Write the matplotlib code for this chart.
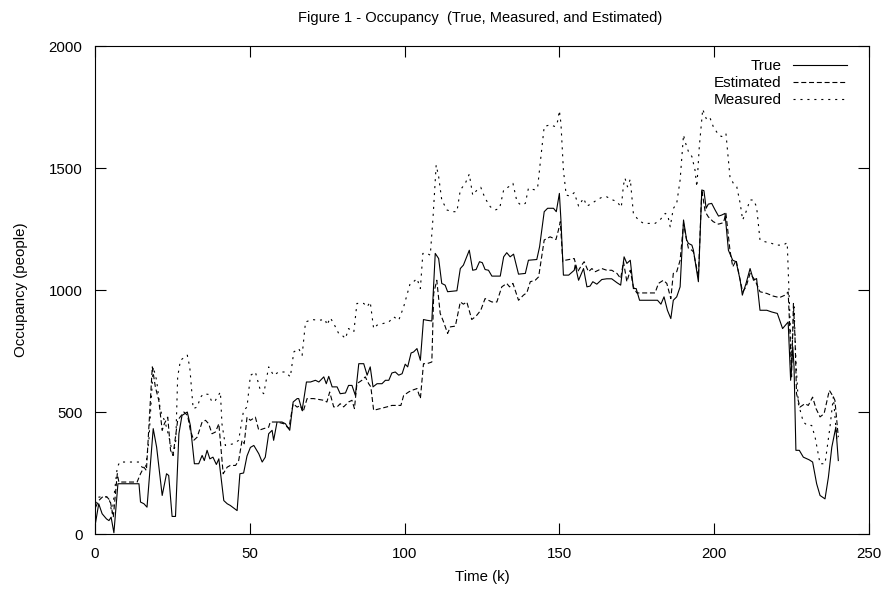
import matplotlib
matplotlib.use("Agg")
import matplotlib.pyplot as plt

plt.rcParams['font.family'] = ['Liberation Sans', 'DejaVu Sans']
plt.rcParams['lines.scale_dashes'] = False

# values (time step k, occupancy)
true_k = [0.2, 1.2, 2.3, 3.7, 4.5, 5.2, 6.1, 7.4, 14.2, 14.7, 15.8, 16.8, 18.8, 19.9, 21.7, 23.1, 23.8,
          24.9, 26.0, 27.1, 28.1, 29.8, 30.8, 32.1, 33.5, 34.6, 35.3, 36.2, 37.1, 38.1, 39.2, 40.0, 41.6,
          42.7, 43.7, 45.9, 46.8, 48.0, 49.1, 50.2, 51.3, 52.9, 54.0, 55.0, 56.1, 57.2, 57.7, 58.8, 60.4,
          61.5, 62.9, 64.0, 65.3, 65.8, 66.9, 68.3, 69.6, 71.2, 72.3, 73.9, 74.7, 75.5, 76.6, 78.2, 79.2,
          80.9, 81.9, 83.0, 84.1, 85.2, 86.8, 87.9, 88.9, 89.8, 91.1, 92.7, 93.8, 94.9, 95.9, 97.0, 98.1,
          99.2, 100.2, 101.0, 102.1, 102.9, 104.0, 105.1, 106.1, 107.2, 108.8, 109.9, 111.0, 112.0, 113.1,
          113.9, 115.3, 116.9, 118.0, 119.0, 120.9, 122.0, 123.1, 124.2, 125.1, 126.0, 127.1, 128.2, 130.9,
          132.0, 133.0, 134.1, 135.2, 136.8, 139.0, 140.0, 142.7, 143.6, 145.1, 146.2, 148.1, 149.0, 150.0,
          150.5, 151.3, 153.0, 154.8, 155.1, 156.2, 157.8, 158.9, 159.9, 160.8, 162.1, 163.7, 165.3,
          166.9, 168.6, 169.8, 170.9, 171.8, 172.9, 173.9, 174.8, 175.9, 177.7, 180.4, 181.7, 182.8, 183.8,
          184.9, 186.0, 186.8, 187.9, 189.0, 190.1, 191.1, 191.7, 192.8, 193.3, 194.9, 196.0, 196.7, 197.4,
          198.1, 199.2, 200.3, 201.4, 202.4, 203.5, 204.6, 206.0, 207.1, 208.4, 209.1, 210.3, 211.6, 212.7,
          213.7, 214.8, 217.0, 218.6, 220.4, 222.1, 223.4, 223.9, 224.7, 225.4, 225.8, 226.4, 227.5, 228.8,
          230.7, 231.8, 233.1, 234.2, 235.8, 236.9, 238.0, 239.3, 240.1]
true_v = [48, 124, 83, 62, 55, 69, 5, 206, 206, 131, 124, 110, 432, 356, 158, 247, 240,
          72, 72, 411, 486, 500, 445, 288, 288, 322, 301, 343, 308, 315, 285, 308, 137,
          124, 117, 96, 247, 250, 320, 355, 363, 329, 295, 315, 411, 425, 384, 459, 459,
          452, 425, 541, 555, 555, 507, 623, 623, 630, 623, 644, 616, 646, 603, 603, 575,
          578, 609, 609, 568, 698, 698, 651, 685, 603, 616, 616, 630, 630, 660, 664, 651,
          657, 696, 685, 742, 746, 760, 712, 879, 876, 873, 1150, 1129, 1027, 1020,
          993, 995, 997, 1088, 1102, 1163, 1081, 1084, 1116, 1112, 1084, 1081, 1057, 1057,
          1136, 1153, 1136, 1147, 1065, 1068, 1122, 1125, 1177, 1321, 1335, 1335, 1321, 1396,
          1287, 1061, 1061, 1081, 1102, 1040, 1088, 1013, 1016, 1034, 1024, 1043, 1046,
          1046, 1030, 1020, 1136, 1109, 1122, 1006, 1006, 958, 958, 958, 958, 942, 972,
          917, 883, 958, 972, 1013, 1287, 1205, 1191, 1184, 1163, 1034, 1410, 1407, 1335,
          1352, 1355, 1328, 1303, 1307, 1314, 1163, 1122, 1116, 1040, 979, 1027, 1088, 1040,
          1047, 917, 917, 910, 904, 842, 862, 869, 630, 767, 685, 343, 343, 315,
          304, 295, 206, 158, 144, 233, 356, 438, 301]

est_k = [0.2, 1.2, 2.6, 3.9, 4.9, 5.9, 7.2, 7.7, 13.6, 14.7, 15.8, 16.6, 18.5, 19.5, 20.6, 21.7, 22.4,
         23.5, 24.4, 25.2, 26.7, 28.7, 29.9, 30.8, 31.9, 33.0, 34.6, 35.7, 36.7, 37.8, 38.9, 40.0, 41.4,
         42.7, 43.7, 45.4, 46.4, 47.5, 48.2, 49.1, 50.2, 51.8, 52.9, 54.5, 56.1, 56.6, 58.8, 61.0, 62.6,
         64.0, 65.3, 66.3, 67.2, 68.5, 70.6, 73.9, 74.9, 75.8, 77.1, 78.2, 79.2, 80.3, 81.9, 83.0, 83.8,
         84.6, 86.2, 87.3, 88.4, 89.1, 90.0, 92.2, 94.3, 95.9, 97.5, 98.8, 99.7, 101.3, 102.4, 104.0,
         105.1, 106.1, 107.2, 108.8, 109.4, 110.4, 111.5, 112.6, 113.9, 114.8, 116.4, 118.0, 119.0, 120.1,
         121.7, 123.1, 124.6, 126.0, 127.1, 128.2, 129.8, 131.4, 133.0, 133.9, 135.0, 136.8, 138.4, 139.5,
         140.6, 142.2, 143.3, 145.1, 147.0, 148.9, 149.7, 150.3, 151.1, 151.9, 154.8, 155.9, 157.2, 158.0,
         159.4, 160.5, 161.6, 163.7, 165.3, 166.9, 168.6, 169.8, 170.7, 171.8, 172.9, 173.9, 175.0, 180.9,
         182.0, 183.6, 184.7, 186.0, 186.8, 187.9, 189.0, 190.1, 191.0, 191.7, 192.8, 193.3, 194.9, 196.0,
         197.1, 198.1, 199.7, 201.4, 203.0, 203.8, 205.1, 206.0, 207.1, 208.4, 209.2, 210.3, 211.6, 213.2,
         214.8, 217.0, 219.1, 221.1, 222.9, 223.9, 224.5, 225.0, 225.6, 226.1, 226.6, 227.7, 229.3, 230.4,
         231.8, 232.9, 234.2, 235.5, 237.2, 238.5, 239.0, 240.1]
est_v = [110, 137, 154, 151, 137, 69, 247, 213, 213, 247, 274, 260, 685, 602, 548, 425, 452,
         479, 343, 322, 466, 500, 486, 425, 384, 397, 459, 466, 452, 411, 418, 452, 247,
         274, 281, 281, 301, 384, 370, 479, 466, 479, 425, 432, 438, 459, 459, 452, 432,
         534, 520, 527, 500, 555, 555, 548, 541, 582, 521, 521, 534, 521, 541, 548, 514,
         616, 630, 644, 616, 603, 507, 514, 521, 527, 527, 527, 568, 582, 589, 596,
         555, 698, 698, 705, 986, 1040, 904, 869, 822, 849, 852, 951, 942, 951,
         879, 893, 917, 965, 958, 951, 951, 1013, 1027, 1013, 1027, 958, 979, 989,
         1034, 1040, 1054, 1205, 1218, 1207, 1246, 1280, 1116, 1122, 1129, 1075, 1102, 1116,
         1075, 1088, 1075, 1088, 1081, 1081, 1068, 1047, 1116, 1034, 1081, 1013, 988, 988,
         1027, 1040, 1027, 965, 1068, 1075, 1122, 1273, 1211, 1170, 1163, 1156, 1054, 1410,
         1321, 1300, 1280, 1270, 1276, 1314, 1163, 1095, 1122, 1040, 993, 1013, 1068, 1040,
         993, 986, 975, 969, 979, 992, 821, 644, 945, 808, 575, 520, 534, 527,
         561, 514, 480, 493, 589, 562, 548, 397]

meas_k = [0.2, 1.2, 2.8, 4.5, 5.5, 7.2, 8.0, 14.2, 15.2, 16.3, 17.4, 18.8, 19.9, 21.1, 22.4, 23.1, 24.4,
          25.2, 26.1, 26.7, 27.6, 29.8, 30.6, 31.7, 33.0, 34.1, 35.1, 36.7, 37.8, 38.9, 40.5, 41.0, 42.1,
          44.8, 46.4, 48.0, 49.1, 50.2, 51.8, 53.4, 54.5, 56.1, 57.7, 59.3, 61.5, 63.1, 64.2, 65.8, 66.9,
          68.0, 70.1, 72.2, 74.4, 74.9, 76.0, 77.1, 78.7, 79.8, 80.9, 81.9, 83.6, 84.6, 86.8, 87.9, 88.9,
          90.0, 91.1, 93.2, 94.9, 96.5, 98.1, 99.7, 101.8, 102.9, 104.0, 105.1, 105.9, 107.2, 108.3, 109.2,
          110.2, 111.0, 112.0, 113.7, 115.3, 116.9, 118.0, 119.6, 120.9, 122.0, 123.4, 124.6, 126.0, 127.7,
          129.3, 130.7, 132.0, 133.6, 135.0, 136.3, 137.6, 139.0, 140.0, 142.2, 143.0, 143.8, 145.1, 147.0,
          148.6, 149.4, 150.0, 150.5, 151.3, 152.2, 153.5, 154.8, 156.2, 157.8, 158.9, 160.5, 162.1, 163.7,
          165.3, 166.9, 168.6, 170.0, 170.7, 171.2, 172.0, 172.9, 173.9, 175.5, 177.2, 180.9, 182.5, 184.2,
          185.0, 185.8, 186.8, 187.9, 189.0, 190.1, 190.6, 191.7, 192.8, 193.8, 194.4, 195.2, 196.3, 197.6,
          198.7, 199.7, 201.4, 202.4, 203.8, 205.1, 206.2, 207.3, 208.4, 209.2, 210.3, 211.6, 212.7, 213.7,
          214.8, 216.4, 218.6, 220.2, 222.3, 223.6, 224.3, 225.0, 225.8, 226.4, 227.2, 228.8, 230.1, 231.5,
          232.6, 234.2, 235.8, 237.4, 238.5, 239.6, 240.1]
meas_v = [124, 151, 154, 151, 83, 274, 295, 295, 274, 267, 384, 685, 630, 507, 466, 438, 370,
          315, 384, 644, 712, 733, 685, 514, 520, 561, 575, 572, 541, 548, 582, 452, 363,
          370, 384, 507, 520, 650, 664, 589, 575, 685, 650, 664, 664, 644, 746, 760, 732,
          869, 879, 876, 879, 856, 886, 863, 822, 815, 801, 842, 828, 945, 945, 931, 951,
          842, 856, 863, 869, 890, 876, 931, 1027, 1034, 1047, 1006, 1150, 1150, 1143, 1300,
          1512, 1465, 1369, 1328, 1321, 1321, 1410, 1437, 1475, 1389, 1410, 1421, 1376, 1341,
          1328, 1335, 1410, 1423, 1437, 1362, 1348, 1355, 1417, 1410, 1423, 1519, 1670, 1677,
          1670, 1690, 1735, 1683, 1492, 1389, 1385, 1399, 1344, 1376, 1344, 1355, 1369, 1380,
          1382, 1371, 1362, 1339, 1430, 1458, 1423, 1454, 1314, 1287, 1273, 1273, 1287, 1314,
          1307, 1259, 1334, 1355, 1451, 1636, 1608, 1567, 1547, 1492, 1423, 1588, 1741, 1697,
          1704, 1670, 1636, 1629, 1642, 1464, 1437, 1423, 1355, 1287, 1321, 1369, 1369, 1341,
          1205, 1198, 1191, 1184, 1184, 1194, 945, 712, 931, 712, 534, 459, 445, 445,
          397, 288, 288, 438, 562, 391, 384]

fig = plt.figure(figsize=(8.83, 5.90), dpi=100)
ax = fig.add_axes([0.1076, 0.0949, 0.8765, 0.8271])

ax.plot(true_k, true_v, color='black', lw=0.8, label='True')
ax.plot(est_k, est_v, color='black', lw=0.8, linestyle=(0, (3.6, 2.0)), label='Estimated')
ax.plot(meas_k, meas_v, color='black', lw=0.8, linestyle=(0, (1.5, 3.5)), label='Measured')

ax.set_xlim(0, 250)
ax.set_ylim(0, 2000)
ax.set_xticks([0, 50, 100, 150, 200, 250])
ax.set_yticks([0, 500, 1000, 1500, 2000])
ax.tick_params(direction='in', length=8, width=0.8, top=True, right=True,
               labelsize=10.8, pad=9)
for s in ax.spines.values():
    s.set_linewidth(0.8)

ax.set_xlabel('Time (k)', fontsize=10.8, labelpad=7)
ax.set_ylabel('Occupancy (people)', fontsize=10.8, labelpad=15)
fig.text(0.544, 0.97, 'Figure 1 - Occupancy  (True, Measured, and Estimated)',
         ha='center', va='center', fontsize=10.5)

ax.legend(loc='upper right', bbox_to_anchor=(0.988, 1.0), frameon=False, markerfirst=False,
          fontsize=11, handlelength=3.5, handletextpad=0.75, labelspacing=0.2,
          borderpad=0.35)

fig.savefig('out.png', dpi=100)
